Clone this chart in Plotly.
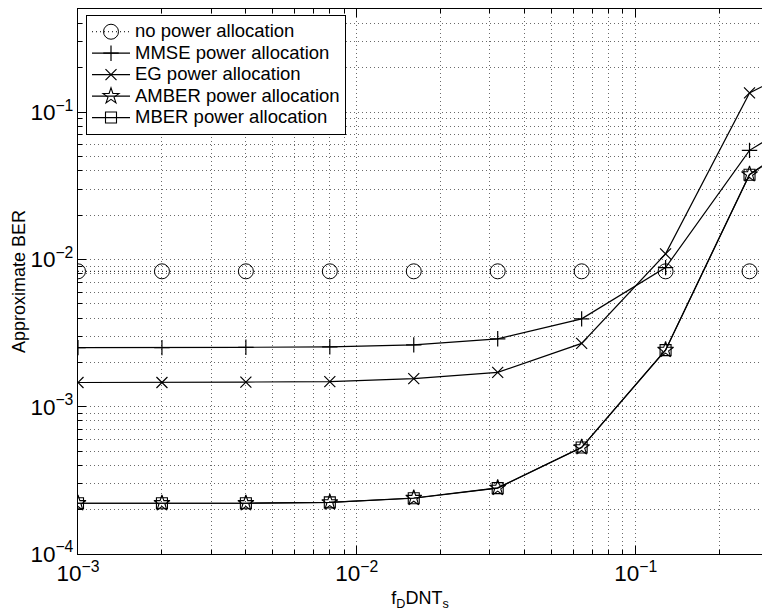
import plotly.graph_objects as go

# Data
fdnts = [0.001, 0.002, 0.004, 0.008, 0.016, 0.032, 0.064, 0.128, 0.256, 0.512]
ber_none = [8.3e-3, 8.3e-3, 8.3e-3, 8.3e-3, 8.3e-3, 8.3e-3, 8.3e-3, 8.3e-3, 8.3e-3, 8.3e-3]
ber_mmse = [2.52e-3, 2.52e-3, 2.53e-3, 2.55e-3, 2.63e-3, 2.89e-3, 3.95e-3, 8.8e-3, 0.055, 0.122]
ber_eg = [1.46e-3, 1.46e-3, 1.47e-3, 1.48e-3, 1.55e-3, 1.71e-3, 2.69e-3, 0.0109, 0.135, 0.261]
ber_amber = [2.21e-4, 2.21e-4, 2.21e-4, 2.24e-4, 2.40e-4, 2.81e-4, 5.30e-4, 2.43e-3, 0.0378, 0.092]
ber_mber = [2.21e-4, 2.21e-4, 2.21e-4, 2.24e-4, 2.39e-4, 2.80e-4, 5.28e-4, 2.42e-3, 0.0376, 0.088]

names = ["no power allocation", "MMSE power allocation", "EG power allocation",
         "AMBER power allocation", "MBER power allocation"]

FONT = "Liberation Sans, Arial, Helvetica, sans-serif"
BLACK = "#000000"
GRID = "#6a6a6a"
DOTS = "1px,3px"


def legend_label(s):
    # full-size legend text while keeping MATLAB-like tight row spacing
    return '<span style="font-size:18.5px">' + s + '</span>'


fig = go.Figure()
fig.add_trace(go.Scatter(x=fdnts, y=ber_none, name=legend_label(names[0]), mode="lines+markers",
                         line=dict(color=BLACK, width=1, dash=DOTS),
                         marker=dict(symbol="circle-open", size=15, color=BLACK, line=dict(width=1, color=BLACK))))
fig.add_trace(go.Scatter(x=fdnts, y=ber_mmse, name=legend_label(names[1]), mode="lines+markers",
                         line=dict(color=BLACK, width=1.2),
                         marker=dict(symbol="cross-thin-open", size=11, color=BLACK, line=dict(width=1.2, color=BLACK))))
fig.add_trace(go.Scatter(x=fdnts, y=ber_eg, name=legend_label(names[2]), mode="lines+markers",
                         line=dict(color=BLACK, width=1.2),
                         marker=dict(symbol="x-thin-open", size=11, color=BLACK, line=dict(width=1.2, color=BLACK))))
fig.add_trace(go.Scatter(x=fdnts, y=ber_amber, name=legend_label(names[3]), mode="lines+markers",
                         line=dict(color=BLACK, width=1.2),
                         marker=dict(symbol="star-open", size=12, color=BLACK, line=dict(width=1.1, color=BLACK))))
fig.add_trace(go.Scatter(x=fdnts, y=ber_mber, name=legend_label(names[4]), mode="lines+markers",
                         line=dict(color=BLACK, width=1.2),
                         marker=dict(symbol="square-open", size=11, color=BLACK, line=dict(width=1.1, color=BLACK))))

axis_common = dict(
    type="log", showline=True, linecolor=BLACK, linewidth=1,
    ticks="inside", ticklen=8, tickcolor=BLACK, tickwidth=1,
    dtick=1, tick0=0, exponentformat="power",
    showgrid=True, gridcolor=GRID, gridwidth=1, griddash=DOTS,
    zeroline=False,
    tickfont=dict(family=FONT, size=18, color=BLACK),
    minor=dict(dtick="D1", ticks="inside", ticklen=4, tickcolor=BLACK,
               showgrid=True, gridcolor=GRID, gridwidth=1, griddash=DOTS),
    automargin=False,
)

fig.update_layout(
    width=762, height=616,
    margin=dict(l=78, r=0, t=9, b=62, pad=0),
    paper_bgcolor="white", plot_bgcolor="white",
    font=dict(family=FONT, size=18, color=BLACK),
    showlegend=True,
    legend=dict(x=0.0117, y=0.989, xanchor="left", yanchor="top",
                bgcolor="white", bordercolor=BLACK, borderwidth=1,
                font=dict(family=FONT, size=14.2, color=BLACK),
                tracegroupgap=0, itemwidth=38),
    xaxis=dict(axis_common, range=[-3, -0.547], mirror="ticks",
               title=dict(text="f<sub>D</sub>DNT<sub>s</sub>", font=dict(family=FONT, size=18), standoff=6)),
    yaxis=dict(axis_common, range=[-4, -0.30], mirror=False,
               title=dict(text="Approximate BER", font=dict(family=FONT, size=18), standoff=0)),
)

fig.write_html("out.html")
